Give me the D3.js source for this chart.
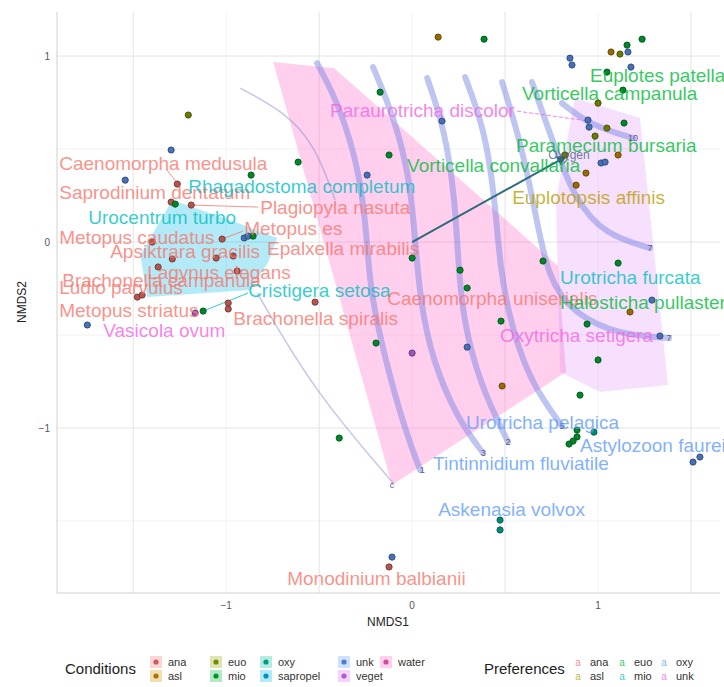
<!DOCTYPE html>
<html>
<head>
<meta charset="utf-8">
<script src="https://cdn.jsdelivr.net/npm/d3@7"></script>
<style>
  body { margin: 0; background: #fff; font-family: "Liberation Sans", Arial, sans-serif; }
</style>
</head>
<body>
<div id="chart"></div>
<script>
// NMDS ordination: sites, species labels, hulls, ordisurf contours, envfit vector

// condition levels + colours
var condLevels = ["ana", "asl", "euo", "mio", "oxy", "sapropel", "unk", "veget", "water"];
var condColors = ["#F8766D", "#D39200", "#93AA00", "#00BA38", "#00C19F", "#00B9E3", "#619CFF", "#DB72FB", "#FF61C3"];

// preference levels + colours
var prefLevels = ["ana", "asl", "euo", "mio", "oxy", "unk"];
var prefColors = ["#F8766D", "#B79F00", "#00BA38", "#00BFC4", "#619CFF", "#F564E3"];

// site scores
var siteX = [-1.204, -1.296, -1.543, -0.613, -0.866, -1.263, -1.296, -1.274, -1.188, -1.022,
  -0.903, -0.882, -0.855, -1.398, -1.290, -1.054, -0.962, -1.366, -0.941, -1.478,
  -1.452, -1.124, -1.167, -0.989, -0.989, -1.747, -0.522, 0.140, 0.387, -0.172,
  0.161, -0.124, -0.242, 1.237, 1.156, 1.070, 1.118, 1.161, 0.849, 0.860,
  1.177, 1.048, 1.134, 1.000, 0.946, 0.952, 1.048, 1.140, 0.984, 1.108,
  0.823, 1.016, 1.038, 0.935, 0.882, 0.000, 0.258, 0.296, 0.704, 1.108,
  0.478, 0.941, 1.172, 1.290, 1.333, 1.000, -0.194, 0.000, 0.296, 0.484,
  0.903, 0.978, 0.887, 0.866, 0.844, 0.887, 1.511, 1.548, 0.473, 0.473,
  -0.108, -0.124, -0.392];
var siteY = [0.683, 0.495, 0.333, 0.430, 0.360, 0.312, 0.215, 0.204, 0.199, 0.016,
  0.022, 0.032, 0.032, 0.000, -0.091, -0.086, -0.075, -0.134, -0.156, -0.296,
  -0.285, -0.371, -0.382, -0.328, -0.360, -0.446, -0.323, 1.102, 1.091, 0.806,
  0.651, 0.468, 0.360, 1.091, 1.059, 1.022, 1.011, 1.022, 0.989, 0.952,
  0.941, 0.914, 0.817, 0.747, 0.656, 0.618, 0.613, 0.640, 0.570, 0.468,
  0.468, 0.425, 0.430, 0.371, 0.306, -0.086, -0.151, -0.247, -0.102, -0.113,
  -0.425, -0.441, -0.376, -0.312, -0.505, -0.634, -0.543, -0.597, -0.565, -0.774,
  -0.823, -1.022, -1.048, -1.070, -1.086, -1.011, -1.183, -1.156, -1.495, -1.548,
  -1.694, -1.747, -1.054];
var siteCond = ["euo", "unk", "unk", "mio", "mio", "ana", "ana", "mio", "ana", "ana",
  "unk", "unk", "mio", "ana", "ana", "ana", "ana", "ana", "ana", "ana",
  "ana", "mio", "veget", "ana", "ana", "unk", "ana", "asl", "mio", "mio",
  "unk", "mio", "unk", "mio", "mio", "asl", "euo", "unk", "unk", "unk",
  "unk", "mio", "mio", "euo", "unk", "unk", "euo", "mio", "euo", "asl",
  "euo", "unk", "unk", "asl", "asl", "mio", "mio", "mio", "mio", "mio",
  "mio", "mio", "asl", "unk", "unk", "mio", "mio", "veget", "unk", "asl",
  "mio", "oxy", "mio", "mio", "mio", "mio", "unk", "unk", "oxy", "oxy",
  "unk", "ana", "mio"];

// species labels (left edge, vertical centre)
var spNames = ["Caenomorpha medusula", "Saprodinium dentatum", "Rhagadostoma completum", "Plagiopyla nasuta",
  "Urocentrum turbo", "Metopus es", "Metopus caudatus", "Apsiktrara gracilis", "Epalxella mirabilis",
  "Lagynus elegans", "Brachonella campanula", "Ludio parvulus", "Cristigera setosa", "Metopus striatus",
  "Vasicola ovum", "Brachonella spiralis", "Paraurotricha discolor", "Euplotes patella",
  "Vorticella campanula", "Paramecium bursaria", "Vorticella convallaria", "Euplotopsis affinis",
  "Urotricha furcata", "Caenomorpha uniserialis", "Halosticha pullaster", "Oxytricha setigera",
  "Urotricha pelagica", "Astylozoon faurei", "Tintinnidium fluviatile", "Askenasia volvox",
  "Monodinium balbianii"];
var spX = [-1.898, -1.898, -1.204, -0.817, -1.742, -0.903, -1.898, -1.624, -0.780, -1.425, -1.882,
  -1.898, -0.882, -1.898, -1.661, -0.962, -0.441, 0.957, 0.591, 0.559, -0.027, 0.538, 0.796,
  -0.134, 0.796, 0.473, 0.290, 0.903, 0.113, 0.140, -0.672];
var spY = [0.425, 0.269, 0.301, 0.188, 0.134, 0.075, 0.027, -0.048, -0.032, -0.161, -0.204,
  -0.242, -0.258, -0.366, -0.473, -0.409, 0.710, 0.898, 0.801, 0.522, 0.414, 0.242, -0.188,
  -0.301, -0.323, -0.500, -0.968, -1.091, -1.188, -1.435, -1.806];
var spPref = ["ana", "ana", "mio", "ana", "mio", "ana", "ana", "ana", "ana", "ana", "ana",
  "ana", "mio", "ana", "unk", "ana", "unk", "euo", "euo", "euo", "euo", "asl", "mio",
  "ana", "euo", "unk", "oxy", "oxy", "oxy", "oxy", "ana"];

// label leader segments: [x1, y1, x2, y2, pref]
var segStartX = [-1.188, 0.565, -1.124, -1.323, -1.022];
var segStartY = [0.199, 0.704, -0.371, 0.392, 0.016];
var segEndX = [-0.828, 0.946, -0.882, -1.263, -0.909];
var segEndY = [0.188, 0.651, -0.274, 0.317, 0.059];
var segPref = ["ana", "unk", "mio", "ana", "ana"];
var segDash = [false, true, false, false, false];

// hulls
var hullWater = [[-0.747, 0.968], [-0.419, 0.935], [0.785, -0.129], [0.828, -0.699], [-0.108, -1.306]];
var hullVeget = [[0.876, 0.774], [1.226, 0.667], [1.376, -0.769], [1.011, -0.806], [0.796, -0.699], [0.774, 0.226]];
var hullSapropel = [[-1.290, 0.226], [-0.952, 0.108], [-0.726, 0.022], [-0.774, -0.108], [-0.871, -0.258], [-1.425, -0.296], [-1.462, -0.070]];

// ordisurf contours
var contours = [
  [[-0.511, 0.962], [-0.387, 0.726], [-0.280, 0.371], [-0.242, 0.011], [-0.226, -0.258], [-0.145, -0.634], [-0.038, -1.011], [0.043, -1.226]],
  [[-0.210, 0.941], [-0.091, 0.656], [-0.011, 0.333], [0.016, 0.011], [0.043, -0.312], [0.108, -0.634], [0.247, -0.957], [0.382, -1.134]],
  [[0.081, 0.882], [0.177, 0.602], [0.231, 0.226], [0.247, -0.097], [0.274, -0.419], [0.366, -0.769], [0.516, -1.075]],
  [[0.285, 0.887], [0.392, 0.602], [0.446, 0.226], [0.473, -0.151], [0.538, -0.473], [0.645, -0.769], [0.806, -0.989]],
  [[0.484, 0.860], [0.581, 0.548], [0.661, 0.172], [0.731, -0.204], [0.876, -0.392], [1.118, -0.500], [1.382, -0.516]],
  [[0.645, 0.860], [0.753, 0.548], [0.876, 0.226], [1.038, 0.038], [1.280, -0.032]],
  [[0.806, 0.747], [0.957, 0.629], [1.188, 0.559]]
];
var thinContours = [
  [[-0.925, 0.828], [-0.683, 0.699], [-0.522, 0.522], [-0.414, 0.226]],
  [[-0.833, -0.274], [-0.532, -0.796], [-0.102, -1.296]]
];
var contourLabels = ["1", "3", "2", "5", "7", "7", "10", "c"];
var contourLabelX = [0.054, 0.382, 0.516, 0.806, 1.280, 1.382, 1.188, -0.108];
var contourLabelY = [-1.226, -1.134, -1.075, -0.989, -0.032, -0.516, 0.559, -1.306];

// envfit vector
var vecName = "Oxygen";
var vecX = 0.823, vecY = 0.457;

var xTicks = [-1, 0, 1];
var yTicks = [-1, 0, 1];

var width = 724, height = 687;
var svg = d3.select("#chart").append("svg")
  .attr("width", width).attr("height", height);

var x = d3.scaleLinear().domain([-1.91, 1.656]).range([57, 720]);
var y = d3.scaleLinear().domain([-1.887, 1.237]).range([593, 12]);

var condCol = d3.scaleOrdinal().domain(condLevels).range(condColors);
var prefCol = d3.scaleOrdinal().domain(prefLevels).range(prefColors);

// grid
var grid = svg.append("g");
grid.selectAll(".vminor").data(xTicks).enter().append("line")
  .attr("x1", d => x(d)).attr("x2", d => x(d)).attr("y1", 12).attr("y2", 593)
  .attr("stroke", "#f4f4f4");
grid.selectAll(".hminor").data([-1.5, -0.5, 0.5]).enter().append("line")
  .attr("x1", 57).attr("x2", 720).attr("y1", d => y(d)).attr("y2", d => y(d))
  .attr("stroke", "#f2f2f2");
grid.selectAll(".vmajor").data([-1.5, -0.5, 0.5, 1.5]).enter().append("line")
  .attr("x1", d => x(d)).attr("x2", d => x(d)).attr("y1", 12).attr("y2", 593)
  .attr("stroke", "#e4e4e4");
grid.selectAll(".hmajor").data(yTicks).enter().append("line")
  .attr("x1", 57).attr("x2", 720).attr("y1", d => y(d)).attr("y2", d => y(d))
  .attr("stroke", "#e4e4e4");

// hulls
var hullLine = d3.line().x(d => x(d[0])).y(d => y(d[1]));
svg.append("path").datum(hullWater).attr("d", d => hullLine(d) + "Z")
  .attr("fill", condCol("water")).attr("fill-opacity", 0.3);
svg.append("path").datum(hullVeget).attr("d", d => hullLine(d) + "Z")
  .attr("fill", condCol("veget")).attr("fill-opacity", 0.22);
svg.append("path").datum(hullSapropel).attr("d", d => hullLine(d) + "Z")
  .attr("fill", condCol("sapropel")).attr("fill-opacity", 0.3);

// contours
var curve = d3.line().x(d => x(d[0])).y(d => y(d[1])).curve(d3.curveBasis);
svg.append("g").selectAll("path").data(contours).enter().append("path")
  .attr("d", curve).attr("fill", "none")
  .attr("stroke", "#6F7FE0").attr("stroke-opacity", 0.45)
  .attr("stroke-width", 6).attr("stroke-linecap", "round");
svg.append("g").selectAll("path").data(thinContours).enter().append("path")
  .attr("d", curve).attr("fill", "none")
  .attr("stroke", "#8A8FD8").attr("stroke-opacity", 0.5)
  .attr("stroke-width", 1.5);
svg.append("g").selectAll("text").data(contourLabels).enter().append("text")
  .attr("x", (d, i) => x(contourLabelX[i])).attr("y", (d, i) => y(contourLabelY[i]))
  .attr("dy", "0.35em").attr("text-anchor", "middle")
  .attr("font-size", 9).attr("fill", "#5a5a8a").text(d => d);

// envfit arrow
svg.append("defs").append("marker").attr("id", "arr")
  .attr("viewBox", "0 0 10 10").attr("refX", 8).attr("refY", 5)
  .attr("markerWidth", 5).attr("markerHeight", 5).attr("orient", "auto")
  .append("path").attr("d", "M0,0L10,5L0,10Z").attr("fill", "#2E6B7D");
svg.append("line")
  .attr("x1", x(0)).attr("y1", y(0)).attr("x2", x(vecX)).attr("y2", y(vecY))
  .attr("stroke", "#2E6B7D").attr("stroke-width", 2).attr("marker-end", "url(#arr)");

// leader segments
svg.append("g").selectAll("line").data(segPref).enter().append("line")
  .attr("x1", (d, i) => x(segStartX[i])).attr("y1", (d, i) => y(segStartY[i]))
  .attr("x2", (d, i) => x(segEndX[i])).attr("y2", (d, i) => y(segEndY[i]))
  .attr("stroke", d => prefCol(d)).attr("stroke-opacity", 0.8).attr("stroke-width", 1)
  .attr("stroke-dasharray", (d, i) => segDash[i] ? "4,2" : null);

// sites
var sites = siteX.map((v, i) => ({ x: v, y: siteY[i], c: siteCond[i] }));
svg.append("g").selectAll("circle").data(sites).enter().append("circle")
  .attr("cx", d => x(d.x)).attr("cy", d => y(d.y)).attr("r", 3.1)
  .attr("fill", d => d3.color(condCol(d.c)).darker(0.9))
  .attr("stroke", d => d3.color(condCol(d.c)).darker(2.2)).attr("stroke-width", 0.9);

svg.append("text").attr("x", x(0.844)).attr("y", y(0.468)).attr("dy", "0.35em")
  .attr("text-anchor", "middle").attr("font-size", 12).attr("fill", "#4b5b86")
  .attr("fill-opacity", 0.8).text(vecName);

// species labels
svg.append("g").selectAll("text").data(spNames).enter().append("text")
  .attr("x", (d, i) => x(spX[i])).attr("y", (d, i) => y(spY[i]))
  .attr("dy", "0.35em").attr("font-size", 19)
  .attr("fill", (d, i) => prefCol(spPref[i])).attr("fill-opacity", 0.8)
  .text(d => d);

// axes
svg.append("line").attr("x1", 57).attr("x2", 57).attr("y1", 12).attr("y2", 593).attr("stroke", "#d0d0d0");
svg.append("line").attr("x1", 57).attr("x2", 720).attr("y1", 593).attr("y2", 593).attr("stroke", "#d0d0d0");

svg.append("g").selectAll("text").data(xTicks).enter().append("text")
  .attr("x", d => x(d)).attr("y", 609).attr("text-anchor", "middle")
  .attr("font-size", 10).attr("fill", "#555").text(d => d === 0 ? "0" : (d < 0 ? "\u2212" + (-d) : d));
svg.append("g").selectAll("text").data(yTicks).enter().append("text")
  .attr("x", 50).attr("y", d => y(d)).attr("dy", "0.35em").attr("text-anchor", "end")
  .attr("font-size", 10).attr("fill", "#555").text(d => d === 0 ? "0" : (d < 0 ? "\u2212" + (-d) : d));

svg.append("text").attr("x", 388).attr("y", 626).attr("text-anchor", "middle")
  .attr("font-size", 12).attr("fill", "#222").text("NMDS1");
svg.append("text").attr("transform", "translate(26,302) rotate(-90)")
  .attr("text-anchor", "middle").attr("font-size", 12).attr("fill", "#222").text("NMDS2");

// legend: conditions
var lg = svg.append("g");
lg.append("text").attr("x", 65).attr("y", 669).attr("dy", "0.35em")
  .attr("font-size", 15).attr("fill", "#222").text("Conditions");
var condColX = [156, 216, 266, 344, 386];
condLevels.forEach(function (c, i) {
  var col = Math.floor(i / 2), row = i % 2;
  var cx = condColX[col], cy = 662 + row * 14;
  lg.append("rect").attr("x", cx - 6).attr("y", cy - 6).attr("width", 12).attr("height", 12)
    .attr("fill", condCol(c)).attr("fill-opacity", 0.3);
  lg.append("circle").attr("cx", cx).attr("cy", cy).attr("r", 2.6)
    .attr("fill", d3.color(condCol(c)).darker(0.6));
  lg.append("text").attr("x", cx + 12).attr("y", cy).attr("dy", "0.35em")
    .attr("font-size", 11).attr("fill", "#333").text(c);
});

// legend: preferences
lg.append("text").attr("x", 484).attr("y", 669).attr("dy", "0.35em")
  .attr("font-size", 15).attr("fill", "#222").text("Preferences");
var prefColX = [578, 622, 664];
prefLevels.forEach(function (p, i) {
  var col = Math.floor(i / 2), row = i % 2;
  var cx = prefColX[col], cy = 662 + row * 14;
  lg.append("text").attr("x", cx).attr("y", cy).attr("dy", "0.35em").attr("text-anchor", "middle")
    .attr("font-size", 10).attr("fill", prefCol(p)).attr("fill-opacity", 0.8).text("a");
  lg.append("text").attr("x", cx + 12).attr("y", cy).attr("dy", "0.35em")
    .attr("font-size", 11).attr("fill", "#333").text(p);
});
</script>
</body>
</html>
